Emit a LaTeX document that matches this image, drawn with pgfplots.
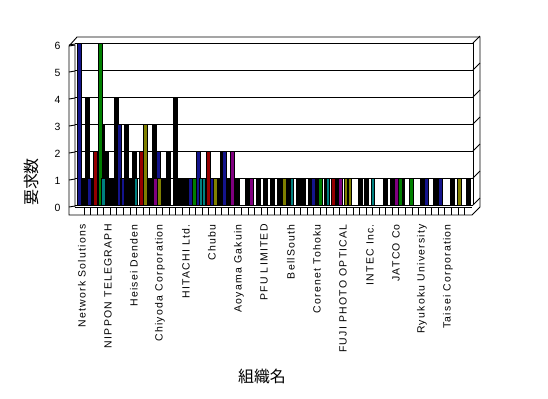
\documentclass[border=0pt]{standalone}
\usepackage{pgfplots}
\pgfplotsset{compat=1.18}
\usepackage{fontspec}
\setmainfont{Liberation Sans}
\newfontfamily\cjk{Noto Sans CJK JP}
\definecolor{cnavy}{RGB}{20,20,140}
\definecolor{cred}{RGB}{150,0,0}
\definecolor{cgreen}{RGB}{0,128,0}
\definecolor{cteal}{RGB}{0,128,128}
\definecolor{colive}{RGB}{128,128,0}
\definecolor{cmag}{RGB}{128,0,128}
\begin{document}
\begin{tikzpicture}
\begin{axis}[scale only axis,
  width=398bp, height=162bp, xmin=75, xmax=473, ymin=0, ymax=6,
  axis line style={draw=none}, major tick length=0pt,
  /pgf/number format/assume math mode=true,
  ytick={0,...,6}, ymajorgrids, grid style={black,line width=0.9bp},
  yticklabel style={font=\fontsize{10.5}{10.5}\selectfont, xshift=-11bp, yshift=-3bp},
  xtick={82,108,134,160,186,212,239,264,291,317,343,370,396,422,448},
  xticklabels={Network Solutions,NIPPON TELEGRAPH,Heisei Denden,Chiyoda Corporation,HITACHI Ltd.,Chubu,Aoyama Gakuin,PFU LIMITED,BellSouth,Corenet Tohoku,FUJI PHOTO OPTICAL,INTEC Inc.,JATCO Co,Ryukoku University,Taisei Corporation},
  xticklabel style={rotate=90, anchor=east, inner sep=0pt, font=\fontsize{10.5}{10.5}\selectfont\addfontfeature{LetterSpace=12}},
  xticklabel shift=19bp,
  ybar, bar shift=0pt, clip=false,
]
% invisible frame giving the picture its size (548 x 398 px)
\path (axis cs:0,-7.148) rectangle (axis cs:548,7.593);
% 3D frame decoration
\draw[line width=0.9bp] (axis cs:69,5.889) -- (axis cs:69,-0.370) -- (axis cs:472,-0.370) -- (axis cs:480,-0.074) -- (axis cs:480,6.222) -- (axis cs:77,6.222) -- cycle;
\draw[line width=0.9bp] (axis cs:69,5.889) -- (axis cs:75,5.926) -- (axis cs:75,-0.074);
\draw[line width=0.9bp] (axis cs:473,6) -- (axis cs:473,0);
\draw[line width=0.9bp] (axis cs:75,-0.074) -- (axis cs:472,-0.074);
\pgfplotsinvokeforeach{0,...,6}{
  \draw[line width=0.9bp] (axis cs:473,{6-#1}) -- (axis cs:480,{6.259-#1});
  \draw[line width=0.9bp] (axis cs:69,{5.926-#1}) -- (axis cs:75,{5.963-#1});
}
\pgfplotsinvokeforeach{1,...,59}{
  \draw[line width=0.9bp] (axis cs:{77.5+6.56*#1},-0.074) -- (axis cs:{77.5+6.56*#1},-0.370);
}
\addplot[fill=black, draw=black, line width=0.8bp, bar width=4] coordinates {
 (83,1) (87,4) (92,1) (98,1) (102.5,3) (106,2) (109,1) (112,1) (116,4) (126,3) (130,1) (134.5,2)
 (150,1) (154,3) (163,1) (168,2) (175,4) (180,1) (185,1) (218,1) (222,2) (228,1) (237,1)
 (247,1) (258,1) (265,1) (272,1) (279,1) (288,1) (298,1) (303,1) (310,1) (318,1) (326,1) (337,1)
 (360,1) (366,1) (385,1) (392,1) (402,1) (422,1) (435,1) (452,1) (468,1)};
\addplot[fill=cnavy, draw=black, line width=0.8bp, bar width=4] coordinates {
 (79,6) (89.5,1) (119,3) (122,1) (158,2) (190,1) (198,2) (211,1) (224,2) (313,1) (426,1) (440,1)};
\addplot[fill=cred, draw=black, line width=0.8bp, bar width=4] coordinates {
 (95,2) (141,2) (208,2) (333,1)};
\addplot[fill=cgreen, draw=black, line width=0.8bp, bar width=4] coordinates {
 (100.5,6) (194.5,1) (320,1) (400,1) (411,1)};
\addplot[fill=cteal, draw=black, line width=0.8bp, bar width=3.5] coordinates {
 (103.5,1) (136,1) (201,1) (204,1) (292,1) (328,1) (373,1)};
\addplot[fill=colive, draw=black, line width=0.8bp, bar width=4] coordinates {
 (145,3) (159.5,1) (215,1) (284,1) (346,1) (349,1) (459,1)};
\addplot[fill=cmag, draw=black, line width=0.8bp, bar width=4] coordinates {
 (155.5,1) (232,2) (251,1) (340,1) (396,1)};
\node[font=\cjk\fontsize{16}{16}\selectfont, rotate=90] at (axis cs:31,0.852) {要求数};
\node[font=\cjk\fontsize{16}{16}\selectfont] at (axis cs:262,-6.333) {組織名};
\end{axis}
\end{tikzpicture}
\end{document}
